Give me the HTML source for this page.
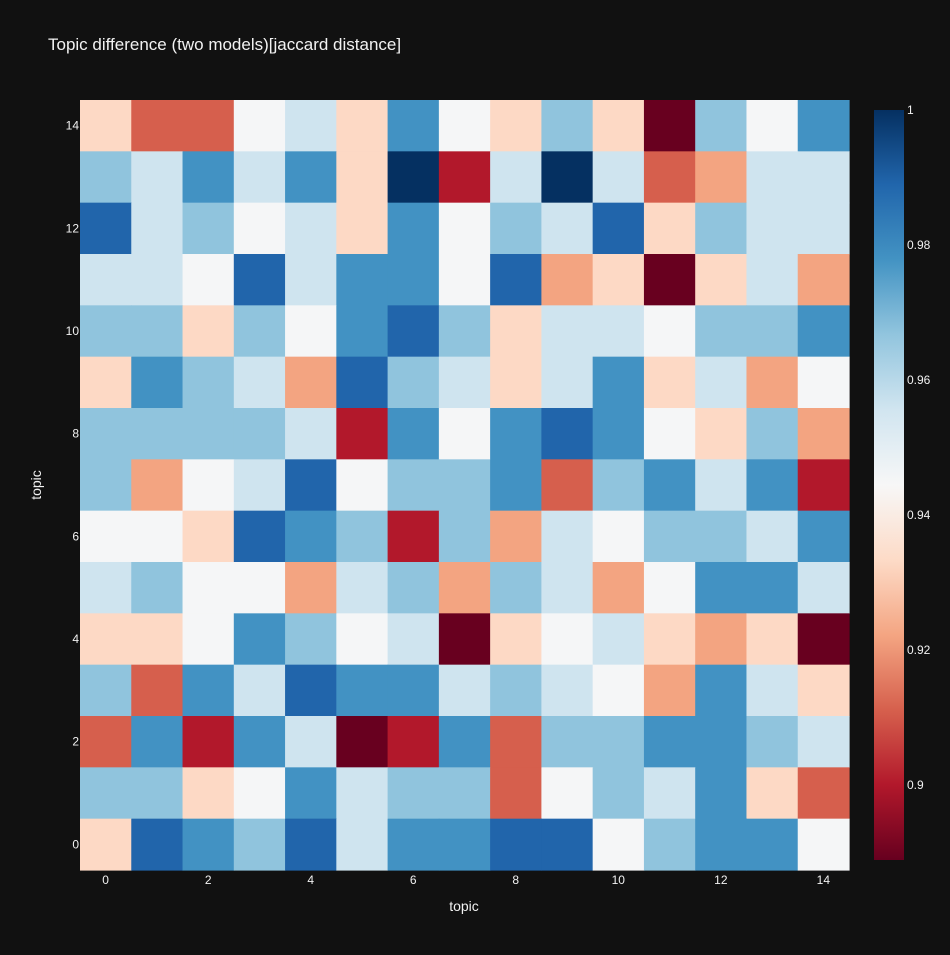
<!DOCTYPE html>
<html><head><meta charset="utf-8"><style>
body{margin:0;background:#111;}
svg text{font-family:"Liberation Sans",sans-serif;fill:#f2f2f2;}
</style></head><body>
<svg id="chart" width="950" height="950" xmlns="http://www.w3.org/2000/svg">
<rect width="950" height="950" fill="#111111"/>
<text x="48" y="50" font-size="17">Topic difference (two models)[jaccard distance]</text>
<g id="cells"></g>
<g id="xt"></g>
<g id="yt"></g>
<text x="464" y="911" font-size="14" text-anchor="middle">topic</text>
<text x="41" y="485" font-size="14" text-anchor="middle" transform="rotate(-90 41 485)">topic</text>
<defs><linearGradient id="cg" x1="0" y1="1" x2="0" y2="0"></linearGradient></defs>
<rect x="874" y="110" width="30" height="750" fill="url(#cg)"/>
<g id="ct"></g>
</svg>
<script>
const DR=0.889,R=0.9,S=0.911,LS=0.922,P=0.933,W=0.945,LB=0.956,MB=0.967,B=0.978,DB=0.989,N=1.0;
// rows listed from topic 14 (top) down to topic 0
const zRows=[
[P,S,S,W,LB,P,B,W,P,MB,P,DR,MB,W,B],
[MB,LB,B,LB,B,P,N,R,LB,N,LB,S,LS,LB,LB],
[DB,LB,MB,W,LB,P,B,W,MB,LB,DB,P,MB,LB,LB],
[LB,LB,W,DB,LB,B,B,W,DB,LS,P,DR,P,LB,LS],
[MB,MB,P,MB,W,B,DB,MB,P,LB,LB,W,MB,MB,B],
[P,B,MB,LB,LS,DB,MB,LB,P,LB,B,P,LB,LS,W],
[MB,MB,MB,MB,LB,R,B,W,B,DB,B,W,P,MB,LS],
[MB,LS,W,LB,DB,W,MB,MB,B,S,MB,B,LB,B,R],
[W,W,P,DB,B,MB,R,MB,LS,LB,W,MB,MB,LB,B],
[LB,MB,W,W,LS,LB,MB,LS,MB,LB,LS,W,B,B,LB],
[P,P,W,B,MB,W,LB,DR,P,W,LB,P,LS,P,DR],
[MB,S,B,LB,DB,B,B,LB,MB,LB,W,LS,B,LB,P],
[S,B,R,B,LB,DR,R,B,S,MB,MB,B,B,MB,LB],
[MB,MB,P,W,B,LB,MB,MB,S,W,MB,LB,B,P,S],
[P,DB,B,MB,DB,LB,B,B,DB,DB,W,MB,B,B,W]];
const xTicks=[0,2,4,6,8,10,12,14];
const yTicks=[0,2,4,6,8,10,12,14];
const cTicks=[1,0.98,0.96,0.94,0.92,0.9];
const zmin=0.8889,zmax=1.0;
const stops=[[103,0,31],[178,24,43],[214,96,77],[244,165,130],[253,219,199],[247,247,247],[209,229,240],[146,197,222],[67,147,195],[33,102,172],[5,48,97]];
function color(v){let t=(v-zmin)/(zmax-zmin);t=Math.max(0,Math.min(1,t))*10;let i=Math.min(9,Math.floor(t)),f=t-i;
const a=stops[i],b=stops[i+1];return `rgb(${a.map((c,k)=>Math.round(c+(b[k]-c)*f)).join(',')})`;}
const X0=80,X1=849,Y0=100,Y1=870,n=15;
const cw=(X1-X0)/n,ch=(Y1-Y0)/n;
const xs=i=>X0+i*cw, ys=j=>Y1-(j+1)*ch;
const ns="http://www.w3.org/2000/svg";
const cells=document.getElementById('cells');
zRows.forEach((row,r)=>{const j=n-1-r;row.forEach((v,i)=>{
const el=document.createElementNS(ns,'rect');
el.setAttribute('x',xs(i));el.setAttribute('y',ys(j));el.setAttribute('width',cw+0.6);el.setAttribute('height',ch+0.6);
el.setAttribute('fill',color(v));


cells.appendChild(el);});});
const xt=document.getElementById('xt');
xTicks.forEach(t=>{const el=document.createElementNS(ns,'text');el.setAttribute('x',xs(t)+cw/2);el.setAttribute('y',884);el.setAttribute('font-size','12');el.setAttribute('text-anchor','middle');el.textContent=t;


xt.appendChild(el);});
const yt=document.getElementById('yt');
yTicks.forEach(t=>{const el=document.createElementNS(ns,'text');el.setAttribute('x',79);el.setAttribute('y',ys(t)+ch/2+4);el.setAttribute('font-size','12');el.setAttribute('text-anchor','end');el.textContent=t;


yt.appendChild(el);});
const cg=document.getElementById('cg');
stops.forEach((s,k)=>{const st=document.createElementNS(ns,'stop');st.setAttribute('offset',k/10);st.setAttribute('stop-color',`rgb(${s.join(',')})`);cg.appendChild(st);});
const ct=document.getElementById('ct');
const cy=v=>860-(v-zmin)/(zmax-zmin)*750;
cTicks.forEach(t=>{const el=document.createElementNS(ns,'text');el.setAttribute('x',907);el.setAttribute('y',cy(t)+4);el.setAttribute('font-size','12');el.textContent=t;


ct.appendChild(el);});
</script>
</body></html>
